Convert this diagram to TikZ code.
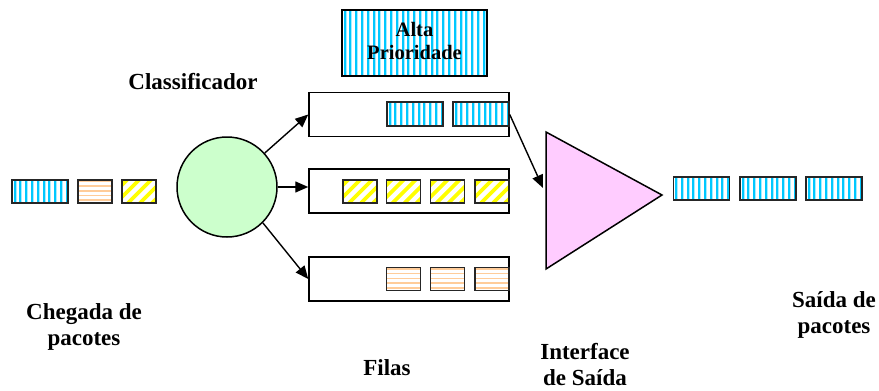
\documentclass[tikz,border=0pt]{standalone}
\usepackage{fontspec}
\setmainfont{Liberation Serif}
\usetikzlibrary{arrows.meta}

\definecolor{stripeblue}{RGB}{0,200,255}
\definecolor{stripepeach}{RGB}{255,204,153}
\definecolor{stripeyellow}{RGB}{255,255,0}
\definecolor{clfgreen}{RGB}{204,255,204}
\definecolor{ifpink}{RGB}{255,204,255}

\tikzset{
    pkt/.style={draw=black!85, line width=1.6pt, fill=white, inner sep=0pt, minimum height=23pt},
    shortpkt/.style={pkt, minimum width=34pt},
    longpkt/.style={pkt, minimum width=56pt},
    bluepkt/.style={path picture={
        \foreach \k in {0,...,25}{
            \fill[stripeblue] ([xshift=\k*5.8pt+1.5pt]path picture bounding box.south west) rectangle ++(2pt,80pt);
            \fill[stripeblue!35] ([xshift=\k*5.8pt+3.5pt]path picture bounding box.south west) rectangle ++(1pt,80pt);
        }
    }},
    peachpkt/.style={path picture={
        \foreach \k in {0,...,5}
            \fill[stripepeach] ([yshift=\k*4.7pt+2pt]path picture bounding box.south west) rectangle ++(60pt,1.6pt);
    }},
    yellowpkt/.style={path picture={
        \foreach \k in {0,...,6}
            \draw[stripeyellow, line width=3.6pt] ([xshift=\k*12pt-30pt]path picture bounding box.south west) -- ++(40pt,40pt);
    }},
    queue/.style={draw, line width=1.5pt, fill=white, minimum width=200pt, minimum height=44pt, inner sep=0pt},
    tag/.style={font=\fontsize{23}{26}\selectfont\bfseries, align=center},
    flow/.style={line width=1.4pt, -{Triangle[length=13pt,width=11pt]}}
}

\begin{document}
\begin{tikzpicture}[x=1pt, y=-1pt]

\useasboundingbox (0,0) rectangle (879,391);

% incoming packets
\node[longpkt, bluepkt] (in1) at (40,191.5) {};
\node[shortpkt, peachpkt] (in2) at (95,191.5) {};
\node[shortpkt, yellowpkt] (in3) at (139,191.5) {};

% classifier
\node[circle, draw, line width=1.5pt, fill=clfgreen, minimum size=100pt] (clf) at (227,187) {};

% queues
\node[queue] (qtop) at (409,114.5) {};
\node[queue] (qmid) at (409,191) {};
\node[queue] (qbot) at (409,279) {};

\foreach \x [count=\i] in {415,481}
    \node[longpkt, bluepkt, minimum height=24pt] (t\i) at (\x,114) {};
\foreach \x [count=\i] in {360,403.5,447.5,492}
    \node[shortpkt, yellowpkt] (m\i) at (\x,191.5) {};
\foreach \x [count=\i] in {403.5,447.5,492}
    \node[shortpkt, peachpkt] (b\i) at (\x,279) {};

\node[draw, line width=1.5pt, fill=white, bluepkt, minimum width=145pt, minimum height=66pt,
      font=\fontsize{20.5}{23}\selectfont\bfseries, align=center, text depth=4pt] (alta) at (414.5,43) {Alta\\Prioridade};

% output interface
\draw[line width=1.5pt, fill=ifpink] (546,132) -- (662,195) -- (546,269) -- cycle;
\coordinate (ifin) at (543,188);

% outgoing packets
\foreach \x [count=\i] in {701.5,768,834}
    \node[longpkt, bluepkt] (out\i) at (\x,188.5) {};

% arrows
\draw[flow] (clf.42) -- (qtop.west);
\draw[flow] (clf.east) -- (clf.east -| qmid.west);
\draw[flow] (clf.-45) -- (qbot.west);
\draw[flow] (qtop.east) -- (ifin);

% labels
\node[tag] (lclf) at (193,82) {Classificador};
\node[tag] (lin) at (84,327) {Chegada de\\pacotes};
\node[tag] (lq) at (387,368) {Filas};
\node[tag] (lif) at (585,365) {Interface\\de Saída};
\node[tag] (lout) at (834,315) {Saída de\\pacotes};

\end{tikzpicture}
\end{document}
